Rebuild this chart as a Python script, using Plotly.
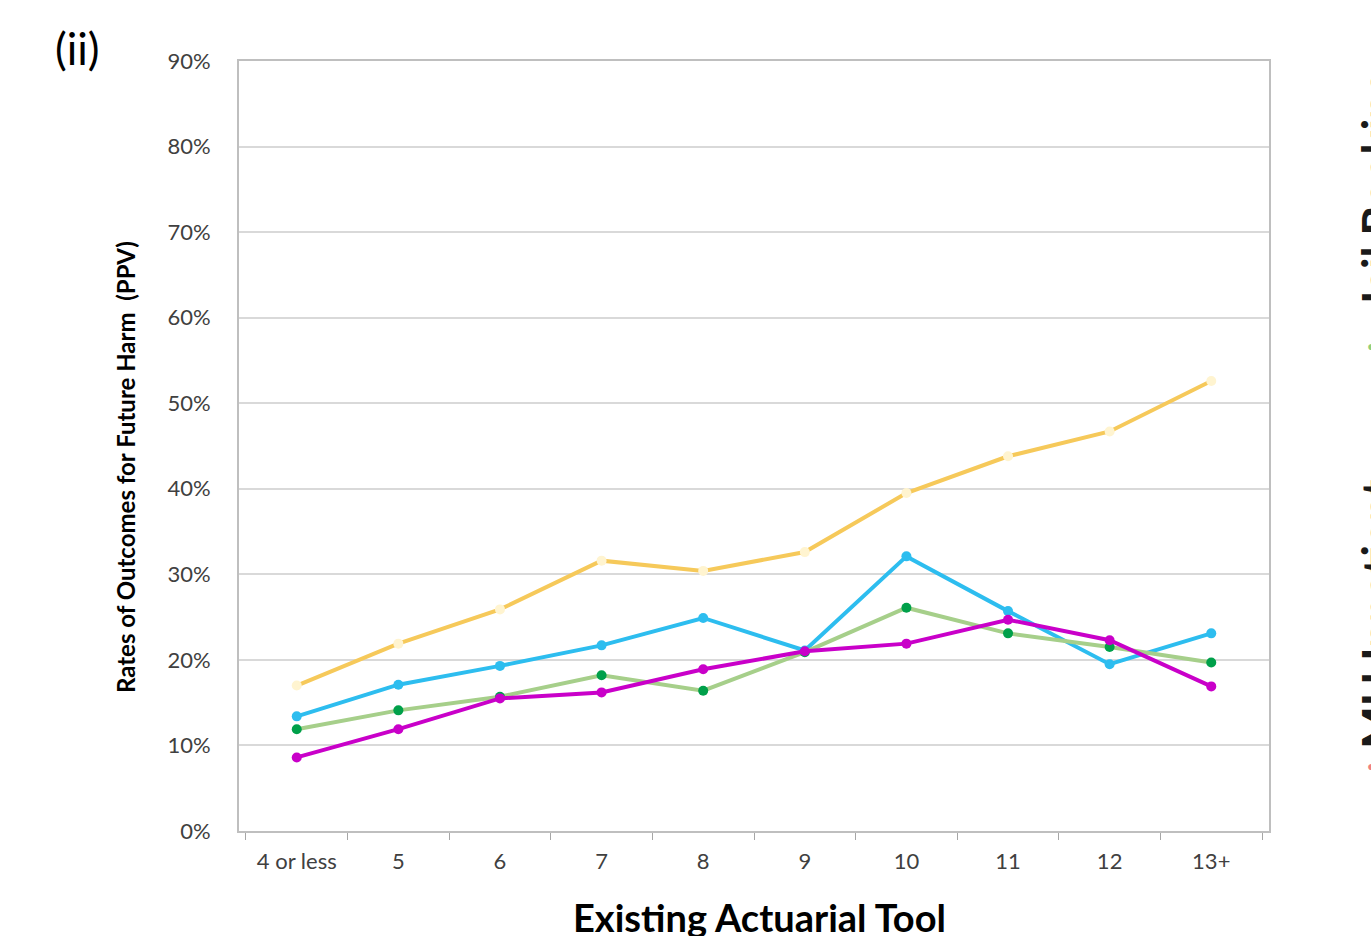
import plotly.graph_objects as go

categories = ["4 or less", "5", "6", "7", "8", "9", "10", "11", "12", "13+"]

any_outcome = [17.0, 21.9, 25.9, 31.6, 30.4, 32.6, 39.5, 43.8, 46.7, 52.6]
new_charge = [13.4, 17.1, 19.3, 21.7, 24.9, 21.1, 32.1, 25.7, 19.5, 23.1]
jail_booking = [11.9, 14.1, 15.7, 18.2, 16.4, 20.9, 26.1, 23.1, 21.5, 19.7]
mh_inpatient = [8.6, 11.9, 15.5, 16.2, 18.9, 21.0, 21.9, 24.7, 22.3, 16.9]

y_ticks = [0, 10, 20, 30, 40, 50, 60, 70, 80, 90]
y_tick_text = [f"{v}%" for v in y_ticks]

series = [
    ("Any Outcome", any_outcome, "#F6C95A", "#FFF4D0"),
    ("New Charge", new_charge, "#2DBDEF", "#2DBDEF"),
    ("Jail Booking", jail_booking, "#A6CF8A", "#00A04A"),
    ("MH Inpatient", mh_inpatient, "#C900C9", "#C900C9"),
]

fig = go.Figure()
for name, vals, lc, mc in series:
    fig.add_trace(go.Scatter(
        x=categories, y=vals, name=name, mode="lines+markers",
        line=dict(color=lc, width=4),
        marker=dict(color=mc, size=10, line=dict(width=0)),
        showlegend=False,
    ))

tick_font = dict(family="Lato, sans-serif", size=22, color="#404040")

fig.update_layout(
    width=1371, height=936,
    margin=dict(l=239, r=102, t=61, b=105),
    paper_bgcolor="white", plot_bgcolor="white",
    xaxis=dict(
        type="category", tickson="boundaries", ticks="outside", ticklen=7,
        tickcolor="#A6A6A6", showline=True, linecolor="#BFBFBF", linewidth=2,
        mirror=True, showgrid=False, tickfont=tick_font, ticklabelstandoff=10,
    ),
    yaxis=dict(
        range=[0, 90], tickvals=y_ticks, ticktext=y_tick_text,
        showgrid=True, gridcolor="#D9D9D9", gridwidth=1.5,
        showline=True, linecolor="#BFBFBF", linewidth=2, mirror=True,
        zeroline=False, ticks="", tickfont=tick_font, ticklabelstandoff=22,
    ),
    annotations=[
        dict(text="(ii)", xref="paper", yref="paper", x=-0.1806, y=1.017,
             xanchor="left", yanchor="middle", showarrow=False,
             font=dict(family="Lato, sans-serif", size=44, color="black")),
        dict(text="<b>Rates of Outcomes for Future Harm  (PPV)</b>", textangle=-90,
             xref="paper", yref="paper", x=-0.1107, y=0.4727,
             xanchor="center", yanchor="middle", showarrow=False,
             font=dict(family="Lato, sans-serif", size=24, color="black")),
        dict(text="<b>Existing Actuarial Tool</b>", xref="paper", yref="paper",
             x=0.5058, y=-0.112, xanchor="center", yanchor="middle", showarrow=False,
             font=dict(family="Lato, sans-serif", size=38, color="black")),
        dict(text="<b>Jail Booking</b>", textangle=-90, xref="paper", yref="paper",
             x=1.0775, y=0.674, xanchor="left", yanchor="bottom", showarrow=False,
             font=dict(family="Lato, sans-serif", size=45, color="#1a1a1a")),
        dict(text="<b>MH Inpatient</b>", textangle=-90, xref="paper", yref="paper",
             x=1.0775, y=0.1039, xanchor="left", yanchor="bottom", showarrow=False,
             font=dict(family="Lato, sans-serif", size=45, color="#1a1a1a")),
        dict(text="●", xref="paper", yref="paper", x=1.099, y=0.631,
             xanchor="center", yanchor="middle", showarrow=False,
             font=dict(size=14, color="#8FD07A")),
        dict(text="●", xref="paper", yref="paper", x=1.099, y=0.0857,
             xanchor="center", yanchor="middle", showarrow=False,
             font=dict(size=14, color="#F08080")),
    ],
)

fig.write_html(
    "out.html",
    config={"displayModeBar": False},
    post_script="document.body.style.margin='0';document.body.style.overflow='hidden';",
)
